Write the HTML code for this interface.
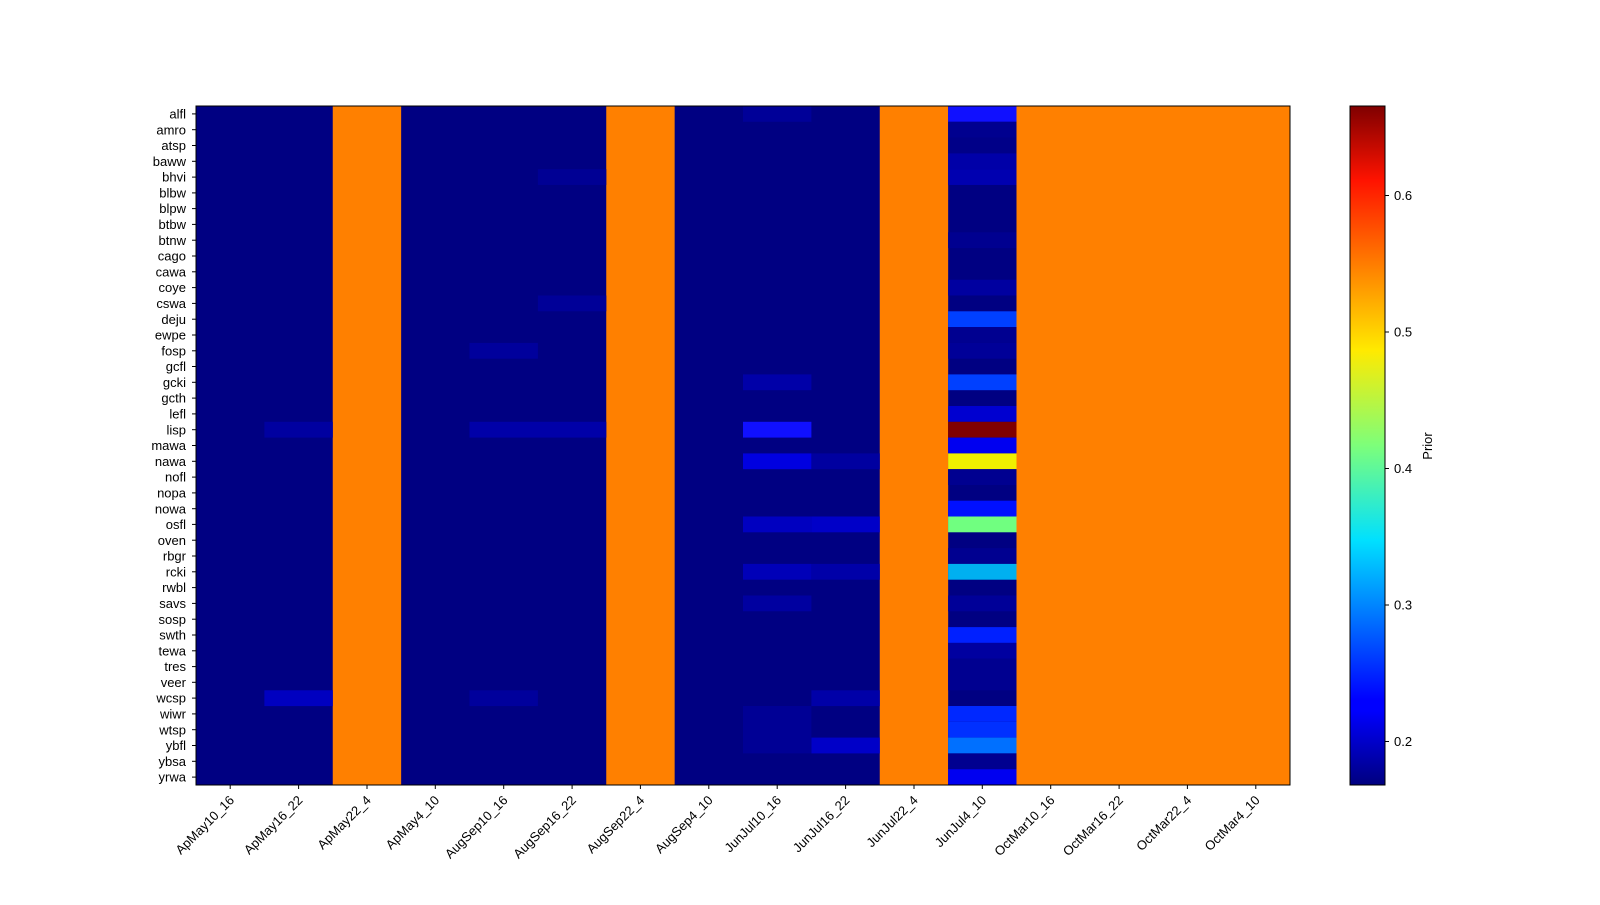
<!DOCTYPE html>
<html><head><meta charset="utf-8"><style>
body{margin:0;background:#fff;}
text{font-family:"Liberation Sans","DejaVu Sans",sans-serif;font-size:13px;fill:#000;}
</style></head><body>
<svg width="1600" height="900" viewBox="0 0 1600 900" xmlns="http://www.w3.org/2000/svg">
<defs>
<linearGradient id="jet" x1="0" y1="1" x2="0" y2="0">
<stop offset="0" stop-color="#00007f"/>
<stop offset="0.11" stop-color="#0000ff"/>
<stop offset="0.125" stop-color="#0000ff"/>
<stop offset="0.36" stop-color="#00e0ff"/>
<stop offset="0.5" stop-color="#7dff7a"/>
<stop offset="0.64" stop-color="#ffea00"/>
<stop offset="0.89" stop-color="#ff1300"/>
<stop offset="1" stop-color="#7f0000"/>
</linearGradient>
</defs>
<!-- base -->
<rect x="196" y="106" width="1094" height="679" fill="#000082"/>
<!-- orange columns -->
<g fill="#ff8000">
<rect x="332.75" y="106" width="68.4" height="679"/>
<rect x="606.25" y="106" width="68.4" height="679"/>
<rect x="879.75" y="106" width="68.4" height="679"/>
<rect x="1016.5" y="106" width="273.5" height="679"/>
</g>
<!-- column 11 JunJul4_10 -->
<g>
<rect x="948.1" y="106" width="68.4" height="15.79" fill="#1010ff"/>
<rect x="948.1" y="121.79" width="68.4" height="15.79" fill="#00008f"/>
<rect x="948.1" y="137.58" width="68.4" height="15.79" fill="#000088"/>
<rect x="948.1" y="153.37" width="68.4" height="15.79" fill="#0000a8"/>
<rect x="948.1" y="169.16" width="68.4" height="15.79" fill="#0000b0"/>
<rect x="948.1" y="232.3" width="68.4" height="15.79" fill="#000090"/>
<rect x="948.1" y="279.7" width="68.4" height="15.79" fill="#0000a0"/>
<rect x="948.1" y="311.3" width="68.4" height="15.79" fill="#0040ff"/>
<rect x="948.1" y="327.1" width="68.4" height="15.79" fill="#000090"/>
<rect x="948.1" y="342.9" width="68.4" height="15.79" fill="#000098"/>
<rect x="948.1" y="374.4" width="68.4" height="15.79" fill="#0040ff"/>
<rect x="948.1" y="406" width="68.4" height="15.79" fill="#0000d0"/>
<rect x="948.1" y="421.8" width="68.4" height="15.79" fill="#800000"/>
<rect x="948.1" y="437.6" width="68.4" height="15.79" fill="#0000f0"/>
<rect x="948.1" y="453.4" width="68.4" height="15.79" fill="#f0f000"/>
<rect x="948.1" y="469.2" width="68.4" height="15.79" fill="#000090"/>
<rect x="948.1" y="500.7" width="68.4" height="15.79" fill="#0010ff"/>
<rect x="948.1" y="516.5" width="68.4" height="15.79" fill="#70ff80"/>
<rect x="948.1" y="548.1" width="68.4" height="15.79" fill="#000090"/>
<rect x="948.1" y="563.9" width="68.4" height="15.79" fill="#00b0f0"/>
<rect x="948.1" y="595.5" width="68.4" height="15.79" fill="#000098"/>
<rect x="948.1" y="627.1" width="68.4" height="15.79" fill="#0020ff"/>
<rect x="948.1" y="642.9" width="68.4" height="15.79" fill="#0000a0"/>
<rect x="948.1" y="658.7" width="68.4" height="31.6" fill="#000090"/>
<rect x="948.1" y="706" width="68.4" height="15.79" fill="#0028ff"/>
<rect x="948.1" y="721.8" width="68.4" height="15.79" fill="#0030ff"/>
<rect x="948.1" y="737.6" width="68.4" height="15.79" fill="#0070ff"/>
<rect x="948.1" y="753.4" width="68.4" height="15.79" fill="#000090"/>
<rect x="948.1" y="769.2" width="68.4" height="15.8" fill="#0000f0"/>
</g>
<!-- other highlights -->
<g>
<rect x="743" y="421.8" width="68.4" height="15.79" fill="#1010ff"/>
<rect x="743" y="453.4" width="68.4" height="15.79" fill="#0000e0"/>
<rect x="743" y="563.9" width="68.4" height="15.79" fill="#0000b8"/>
<rect x="743" y="516.5" width="68.4" height="15.79" fill="#0000c0"/>
<rect x="811.4" y="516.5" width="68.4" height="15.79" fill="#0000c8"/>
<rect x="811.4" y="737.6" width="68.4" height="15.79" fill="#0000c8"/>
<rect x="811.4" y="563.9" width="68.4" height="15.79" fill="#0000a8"/>
<rect x="811.4" y="453.4" width="68.4" height="15.79" fill="#0000a0"/>
<rect x="811.4" y="690.3" width="68.4" height="15.79" fill="#0000a8"/>
<rect x="743" y="374.4" width="68.4" height="15.79" fill="#0000a8"/>
<rect x="743" y="595.5" width="68.4" height="15.79" fill="#0000a0"/>
<rect x="743" y="106" width="68.4" height="15.79" fill="#000098"/>
<rect x="743" y="706" width="68.4" height="47.4" fill="#000095"/>
<rect x="264.4" y="690.3" width="68.4" height="15.79" fill="#0000c0"/>
<rect x="264.4" y="421.8" width="68.4" height="15.79" fill="#0000a0"/>
<rect x="469.5" y="421.8" width="136.8" height="15.79" fill="#0000a8"/>
<rect x="469.5" y="342.9" width="68.4" height="15.79" fill="#00009c"/>
<rect x="469.5" y="690.3" width="68.4" height="15.79" fill="#00009c"/>
<rect x="537.9" y="295.5" width="68.4" height="15.79" fill="#000098"/>
<rect x="537.9" y="169.16" width="68.4" height="15.79" fill="#000094"/>
</g>
<rect x="196" y="106" width="1094" height="679" fill="none" stroke="#000" stroke-width="1"/>
<!-- y ticks -->
<g stroke="#000">
<line x1="192" x2="196" y1="113.9" y2="113.9"/><line x1="192" x2="196" y1="129.7" y2="129.7"/><line x1="192" x2="196" y1="145.5" y2="145.5"/><line x1="192" x2="196" y1="161.3" y2="161.3"/><line x1="192" x2="196" y1="177.1" y2="177.1"/><line x1="192" x2="196" y1="192.9" y2="192.9"/><line x1="192" x2="196" y1="208.6" y2="208.6"/><line x1="192" x2="196" y1="224.4" y2="224.4"/><line x1="192" x2="196" y1="240.2" y2="240.2"/><line x1="192" x2="196" y1="256" y2="256"/><line x1="192" x2="196" y1="271.8" y2="271.8"/><line x1="192" x2="196" y1="287.6" y2="287.6"/><line x1="192" x2="196" y1="303.4" y2="303.4"/><line x1="192" x2="196" y1="319.2" y2="319.2"/><line x1="192" x2="196" y1="335" y2="335"/><line x1="192" x2="196" y1="350.8" y2="350.8"/><line x1="192" x2="196" y1="366.5" y2="366.5"/><line x1="192" x2="196" y1="382.3" y2="382.3"/><line x1="192" x2="196" y1="398.1" y2="398.1"/><line x1="192" x2="196" y1="413.9" y2="413.9"/><line x1="192" x2="196" y1="429.7" y2="429.7"/><line x1="192" x2="196" y1="445.5" y2="445.5"/><line x1="192" x2="196" y1="461.3" y2="461.3"/><line x1="192" x2="196" y1="477.1" y2="477.1"/><line x1="192" x2="196" y1="492.9" y2="492.9"/><line x1="192" x2="196" y1="508.7" y2="508.7"/><line x1="192" x2="196" y1="524.4" y2="524.4"/><line x1="192" x2="196" y1="540.2" y2="540.2"/><line x1="192" x2="196" y1="556" y2="556"/><line x1="192" x2="196" y1="571.8" y2="571.8"/><line x1="192" x2="196" y1="587.6" y2="587.6"/><line x1="192" x2="196" y1="603.4" y2="603.4"/><line x1="192" x2="196" y1="619.2" y2="619.2"/><line x1="192" x2="196" y1="635" y2="635"/><line x1="192" x2="196" y1="650.8" y2="650.8"/><line x1="192" x2="196" y1="666.6" y2="666.6"/><line x1="192" x2="196" y1="682.3" y2="682.3"/><line x1="192" x2="196" y1="698.1" y2="698.1"/><line x1="192" x2="196" y1="713.9" y2="713.9"/><line x1="192" x2="196" y1="729.7" y2="729.7"/><line x1="192" x2="196" y1="745.5" y2="745.5"/><line x1="192" x2="196" y1="761.3" y2="761.3"/><line x1="192" x2="196" y1="777.1" y2="777.1"/>
</g>
<g text-anchor="end">
<text x="186" y="118.5">alfl</text><text x="186" y="134.3">amro</text><text x="186" y="150.1">atsp</text><text x="186" y="165.9">baww</text><text x="186" y="181.7">bhvi</text><text x="186" y="197.5">blbw</text><text x="186" y="213.2">blpw</text><text x="186" y="229">btbw</text><text x="186" y="244.8">btnw</text><text x="186" y="260.6">cago</text><text x="186" y="276.4">cawa</text><text x="186" y="292.2">coye</text><text x="186" y="308">cswa</text><text x="186" y="323.8">deju</text><text x="186" y="339.6">ewpe</text><text x="186" y="355.4">fosp</text><text x="186" y="371.1">gcfl</text><text x="186" y="386.9">gcki</text><text x="186" y="402.7">gcth</text><text x="186" y="418.5">lefl</text><text x="186" y="434.3">lisp</text><text x="186" y="450.1">mawa</text><text x="186" y="465.9">nawa</text><text x="186" y="481.7">nofl</text><text x="186" y="497.5">nopa</text><text x="186" y="513.3">nowa</text><text x="186" y="529">osfl</text><text x="186" y="544.8">oven</text><text x="186" y="560.6">rbgr</text><text x="186" y="576.4">rcki</text><text x="186" y="592.2">rwbl</text><text x="186" y="608">savs</text><text x="186" y="623.8">sosp</text><text x="186" y="639.6">swth</text><text x="186" y="655.4">tewa</text><text x="186" y="671.2">tres</text><text x="186" y="686.9">veer</text><text x="186" y="702.7">wcsp</text><text x="186" y="718.5">wiwr</text><text x="186" y="734.3">wtsp</text><text x="186" y="750.1">ybfl</text><text x="186" y="765.9">ybsa</text><text x="186" y="781.7">yrwa</text>
</g>
<!-- x ticks -->
<g stroke="#000">
<line x1="230.2" x2="230.2" y1="785" y2="789"/><line x1="298.6" x2="298.6" y1="785" y2="789"/><line x1="367" x2="367" y1="785" y2="789"/><line x1="435.3" x2="435.3" y1="785" y2="789"/><line x1="503.7" x2="503.7" y1="785" y2="789"/><line x1="572.1" x2="572.1" y1="785" y2="789"/><line x1="640.4" x2="640.4" y1="785" y2="789"/><line x1="708.8" x2="708.8" y1="785" y2="789"/><line x1="777.2" x2="777.2" y1="785" y2="789"/><line x1="845.6" x2="845.6" y1="785" y2="789"/><line x1="914" x2="914" y1="785" y2="789"/><line x1="982.3" x2="982.3" y1="785" y2="789"/><line x1="1050.7" x2="1050.7" y1="785" y2="789"/><line x1="1119.1" x2="1119.1" y1="785" y2="789"/><line x1="1187.4" x2="1187.4" y1="785" y2="789"/><line x1="1255.8" x2="1255.8" y1="785" y2="789"/>
</g>
<g text-anchor="end">
<text transform="translate(235,801) rotate(-45)">ApMay10_16</text>
<text transform="translate(303.4,801) rotate(-45)">ApMay16_22</text>
<text transform="translate(371.8,801) rotate(-45)">ApMay22_4</text>
<text transform="translate(440.1,801) rotate(-45)">ApMay4_10</text>
<text transform="translate(508.5,801) rotate(-45)">AugSep10_16</text>
<text transform="translate(576.9,801) rotate(-45)">AugSep16_22</text>
<text transform="translate(645.2,801) rotate(-45)">AugSep22_4</text>
<text transform="translate(713.6,801) rotate(-45)">AugSep4_10</text>
<text transform="translate(782,801) rotate(-45)">JunJul10_16</text>
<text transform="translate(850.4,801) rotate(-45)">JunJul16_22</text>
<text transform="translate(918.8,801) rotate(-45)">JunJul22_4</text>
<text transform="translate(987.1,801) rotate(-45)">JunJul4_10</text>
<text transform="translate(1055.5,801) rotate(-45)">OctMar10_16</text>
<text transform="translate(1123.9,801) rotate(-45)">OctMar16_22</text>
<text transform="translate(1192.2,801) rotate(-45)">OctMar22_4</text>
<text transform="translate(1260.6,801) rotate(-45)">OctMar4_10</text>
</g>
<!-- colorbar -->
<rect x="1350" y="106" width="35" height="679" fill="url(#jet)" stroke="#000" stroke-width="1"/>
<g stroke="#000">
<line x1="1385" x2="1389" y1="741.5" y2="741.5"/><line x1="1385" x2="1389" y1="605" y2="605"/><line x1="1385" x2="1389" y1="468.5" y2="468.5"/><line x1="1385" x2="1389" y1="332" y2="332"/><line x1="1385" x2="1389" y1="195.5" y2="195.5"/>
</g>
<text x="1394" y="746">0.2</text><text x="1394" y="609.5">0.3</text><text x="1394" y="473">0.4</text><text x="1394" y="336.5">0.5</text><text x="1394" y="200">0.6</text>
<text transform="translate(1432,446) rotate(-90)" text-anchor="middle">Prior</text>
</svg>
</body></html>
